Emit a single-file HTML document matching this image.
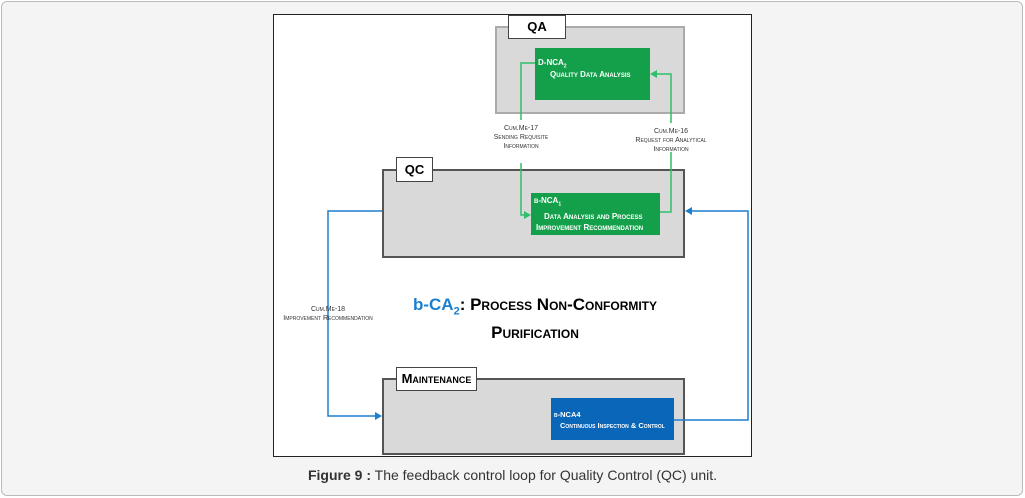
<!DOCTYPE html>
<html><head><style>
body{margin:0;width:1025px;height:498px;background:#fff;font-family:"Liberation Sans",sans-serif;position:relative;overflow:hidden}
.card{position:absolute;left:1px;top:1px;width:1020px;height:493px;border:1px solid #bbb;border-radius:6px;background:#f4f4f4}
.fig{position:absolute;left:273px;top:14px;width:477px;height:441px;border:1px solid #222;background:#fff}
.a{position:absolute}
.grey{background:#d9d9d9;border:2px solid #555;box-sizing:border-box}
.lab{background:#fff;border:1px solid #444;box-sizing:border-box;font-weight:bold;font-size:13px;text-align:center;font-variant:small-caps}
.g{background:#14a04a;color:#fff;font-size:8px;font-weight:bold;font-variant:small-caps;box-sizing:border-box;white-space:nowrap}
.b{background:#0a66b8;color:#fff;font-size:7.5px;font-weight:bold;font-variant:small-caps;box-sizing:border-box;white-space:nowrap}
.t{font-size:7px;color:#333;text-align:center;font-variant:small-caps;line-height:9px}
</style></head><body>
<div class="card"></div>
<div class="fig"></div>
<div class="a grey" style="left:495px;top:26px;width:190px;height:88px;border-color:#aaa"></div>
<div class="a lab" style="left:508px;top:15px;width:58px;height:24px;line-height:22px">QA</div>
<div class="a g" style="left:535px;top:48px;width:115px;height:52px;padding:10px 0 0 3px">D-NCA<sub style="font-size:5px">2</sub><br><span style="padding-left:12px">Quality Data Analysis</span></div>
<div class="a grey" style="left:382px;top:169px;width:303px;height:89px"></div>
<div class="a lab" style="left:396px;top:157px;width:37px;height:25px;line-height:23px">QC</div>
<div class="a g" style="left:531px;top:193px;width:129px;height:42px;padding:2px 0 0 3px;line-height:11px">b-NCA<sub style="font-size:5px">1</sub><br><span style="padding-left:10px">Data Analysis and Process</span><br><span style="padding-left:2px">Improvement Recommendation</span></div>
<div class="a grey" style="left:382px;top:378px;width:303px;height:77px"></div>
<div class="a lab" style="left:396px;top:367px;width:81px;height:24px;line-height:22px">Maintenance</div>
<div class="a b" style="left:551px;top:398px;width:123px;height:42px;padding:11px 0 0 3px;line-height:11px">b-NCA4<br><span style="padding-left:6px">Continuous Inspection &amp; Control</span></div>
<svg class="a" style="left:0;top:0" width="1025" height="498">
<g fill="none" stroke-width="1.5">
<polyline stroke="#2fbf6a" points="535,63 521,63 521,120"/>
<polyline stroke="#2fbf6a" points="521,163 521,215 526,215"/>
<polyline stroke="#2fbf6a" points="660,212 671,212 671,152"/>
<polyline stroke="#2fbf6a" points="671,123 671,74 656,74"/>
<polyline stroke="#1b7fd0" points="382,211 328,211 328,416 376,416"/>
<polyline stroke="#1b7fd0" points="674,420 748,420 748,211 691,211"/>
</g>
<polygon fill="#2fbf6a" points="531,215 524,211 524,219"/>
<polygon fill="#2fbf6a" points="650,74 657,70 657,78"/>
<polygon fill="#1b7fd0" points="382,416 375,412 375,420"/>
<polygon fill="#1b7fd0" points="685,211 692,207 692,215"/>
</svg>
<div class="a t" style="left:481px;top:124px;width:80px">Cum.Me-17<br>Sending Requisite<br>Information</div>
<div class="a t" style="left:621px;top:127px;width:100px">Cum.Me-16<br>Request for Analytical<br>Information</div>
<div class="a t" style="left:268px;top:305px;width:120px">Cum.Me-18<br>Improvement Recommendation</div>
<div class="a" style="left:380px;top:294px;width:310px;text-align:center;font-weight:bold;font-size:17px;font-variant:small-caps;line-height:21px;white-space:nowrap"><span style="color:#1b7fd0;font-variant:normal">b-CA<sub style="font-size:11px">2</sub></span>: Process Non-Conformity<br>Purification</div>
<div class="a" style="left:0;top:467px;width:1025px;text-align:center;font-size:14px;color:#333"><b>Figure 9 :</b> The feedback control loop for Quality Control (QC) unit.</div>
</body></html>
